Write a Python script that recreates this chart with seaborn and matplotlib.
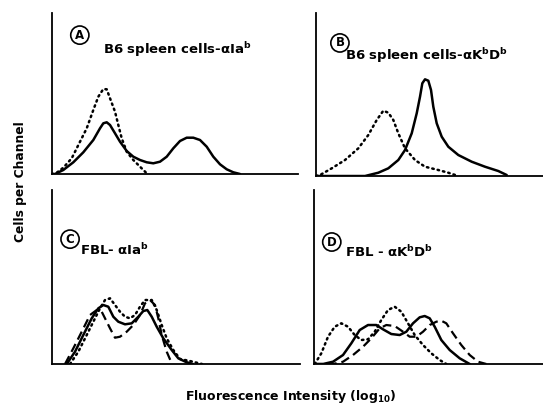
import matplotlib
matplotlib.use("Agg")
import matplotlib.pyplot as plt
import seaborn as sns
import pandas as pd

# channel (x) vs cells per channel (y), arbitrary units

# Panel A: B6 spleen cells - anti Ia(b)
a_solid_x = [0, 3, 11.3, 21.3, 31.3, 41.3, 48, 51.3, 54.7, 58, 63, 68, 74.7, 81.3, 88, 94.7, 101.3,
             108, 114.7, 121.3, 128, 134.7, 141.3, 148, 154.7, 161.3, 168, 174.7, 181.3, 188]
a_solid_y = [0, 0, 4, 11.7, 21.7, 34, 45.7, 50.7, 51.7, 49, 40.7, 32.3, 23, 17.3, 14, 11.7, 10.7,
             12.3, 17.3, 25.7, 33, 36.3, 36.3, 34, 27.3, 17.3, 9.7, 4.7, 1.7, 0]
a_dot_x = [0, 3, 11.3, 19.7, 28, 34.7, 41.3, 46.3, 51.3, 54.7, 58, 63, 66.3, 69.7, 74.7, 81.3, 88, 94.7]
a_dot_y = [0, 0, 6.3, 15.7, 32.3, 45.7, 64, 77.3, 85, 84.7, 75.7, 62.3, 49, 35.7, 22.3, 14, 7.3, 0.7]

# Panel B: B6 spleen cells - anti K(b)D(b)
b_solid_x = [0, 49, 62.3, 72.3, 82.3, 89, 95.7, 100.7, 104, 106.3, 109, 112.3, 115, 117.3, 120.7,
             125.7, 132.3, 142.3, 155.7, 169, 182.3, 190.7]
b_solid_y = [0, 0, 3.3, 7.7, 16, 26, 42.7, 62.7, 79.3, 92.7, 96.7, 95.3, 86, 69.3, 52.7,
             39.3, 29.3, 21, 14.3, 9.3, 5, 1]
b_dot_x = [0, 4, 15.7, 29, 42.3, 52.3, 60.7, 67.3, 72.3, 77.3, 82.3, 89, 99, 109, 122.3, 132.3, 142.3]
b_dot_y = [0, 1, 7.7, 16, 27.7, 41, 56, 65.3, 63.3, 56, 42.7, 27.7, 16, 9.3, 6, 3.3, 0]

# Panel C: FBL - anti Ia(b)
c_solid_x = [14.7, 23, 31.3, 39.7, 46.3, 51.3, 56.3, 61.3, 66.3, 73, 79.7, 86.3, 91.3, 95.3, 99.7,
             104.7, 111.3, 119.7, 126.3, 134, 141]
c_solid_y = [0, 12.3, 29, 45.7, 55.7, 59, 57.3, 47.3, 42.3, 39.7, 40.7, 47.3, 53, 54, 47.3,
             37.3, 25.7, 14, 5.7, 2, 0]
c_dash_x = [13, 21.3, 29.7, 38, 44.7, 49.7, 54.7, 58, 63, 68, 74.7, 81.3, 88, 93, 98, 103, 106.3,
            109.7, 114.7, 119.7]
c_dash_y = [0, 15.7, 32.3, 49, 54, 52.3, 42.3, 35.7, 26.3, 27.3, 32.3, 39, 49, 60.7, 64, 59, 45.7,
            29, 12.3, 0.7]
c_dot_x = [18, 26.3, 34.7, 41.3, 48, 53, 58, 63, 68, 73, 78, 83, 88, 93, 99.7, 104.7, 109.7,
           114.7, 121.3, 128, 138, 150]
c_dot_y = [0, 12.3, 29, 42.3, 55.7, 64, 65.7, 59, 52.3, 47.3, 45.7, 49, 57.3, 64, 64, 54, 39,
           25.7, 14, 5, 3, 0]

# Panel D: FBL - anti K(b)D(b)
d_solid_x = [0, 9, 19, 29, 37.3, 45.7, 54, 62.3, 69, 77.3, 85.7, 92.3, 99, 105.7, 110.7, 115.7,
             120.7, 127.3, 135.7, 145.7, 155.7]
d_solid_y = [0, 0, 2.3, 9, 20.7, 34, 39, 39, 34.7, 30, 29, 32.3, 40.7, 46.7, 48, 45.7,
             37.3, 24, 14, 5.7, 0]
d_dash_x = [0, 19, 29, 39, 49, 57.3, 65.7, 72.3, 80.7, 89, 95.7, 102.3, 109, 115.7, 122.3, 127.3,
            132.3, 139, 147.3, 155.7, 164, 172.3]
d_dash_y = [0, 0, 2.3, 9, 17.3, 25.7, 35.7, 39, 38, 32.3, 27.3, 27.3, 32.3, 39, 42.3, 43.3,
            40.7, 30.7, 19, 9, 2.3, 0]
d_dot_x = [0.7, 7.3, 14, 20.7, 27.3, 34, 40.7, 47.3, 54, 60.7, 67.3, 74, 80.7, 87.3, 94, 100.7,
           109, 117.3, 125.7, 132.3]
d_dot_y = [0, 10.7, 27.3, 37.3, 40.7, 37.3, 29, 24, 24.7, 32.3, 44, 54, 57.3, 52.3, 40.7, 29,
           19, 10.7, 4, 0]

panels = {
    "A": {"rect": [0.0958, 0.5787, 0.453, 0.3898], "lim": (246, 161),
          "label": r"B6 spleen cells-αIa$^{\mathbf{b}}$",
          "circle": (0.147, 0.915), "text": (0.19, 0.879),
          "series": [(a_solid_x, a_solid_y, "-"), (a_dot_x, a_dot_y, ":")]},
    "B": {"rect": [0.582, 0.5738, 0.418, 0.3947], "lim": (227, 163),
          "label": r"B6 spleen cells-αK$^{\mathbf{b}}$D$^{\mathbf{b}}$",
          "circle": (0.626, 0.896), "text": (0.636, 0.866),
          "series": [(b_solid_x, b_solid_y, "-"), (b_dot_x, b_dot_y, ":")]},
    "C": {"rect": [0.0958, 0.1186, 0.4567, 0.4213], "lim": (248, 174),
          "label": r"FBL- αIa$^{\mathbf{b}}$",
          "circle": (0.129, 0.421), "text": (0.147, 0.395),
          "series": [(c_solid_x, c_solid_y, "-"), (c_dash_x, c_dash_y, "--"), (c_dot_x, c_dot_y, ":")]},
    "D": {"rect": [0.5783, 0.1186, 0.4217, 0.4213], "lim": (229, 174),
          "label": r"FBL - αK$^{\mathbf{b}}$D$^{\mathbf{b}}$",
          "circle": (0.611, 0.414), "text": (0.636, 0.39),
          "series": [(d_solid_x, d_solid_y, "-"), (d_dash_x, d_dash_y, "--"), (d_dot_x, d_dot_y, ":")]},
}

sns.set_style("white")
plt.rcParams["font.family"] = ["DejaVu Sans"]

fig = plt.figure(figsize=(5.43, 4.13), dpi=100)

for key, p in panels.items():
    ax = fig.add_axes(p["rect"])
    for xs, ys, ls in p["series"]:
        df = pd.DataFrame({"x": xs, "y": ys})
        if ls == ":":
            sns.lineplot(data=df, x="x", y="y", ax=ax, color="black", lw=1.8,
                         linestyle=(0, (0.6, 1.6)), dash_capstyle="round")
        elif ls == "--":
            sns.lineplot(data=df, x="x", y="y", ax=ax, color="black", lw=1.6,
                         linestyle=(0, (4, 2.2)))
        else:
            sns.lineplot(data=df, x="x", y="y", ax=ax, color="black", lw=1.8)
    ax.set_xlim(0, p["lim"][0])
    ax.set_ylim(0, p["lim"][1])
    ax.set_xticks([])
    ax.set_yticks([])
    ax.set_xlabel("")
    ax.set_ylabel("")
    ax.set_facecolor("none")
    for s in ["top", "right"]:
        ax.spines[s].set_visible(False)
    for s in ["left", "bottom"]:
        ax.spines[s].set_color("black")
        ax.spines[s].set_linewidth(1.3)
    fig.text(*p["circle"], key, ha="center", va="center", fontsize=8.5, fontweight="bold",
             color="black",
             bbox=dict(boxstyle="circle,pad=0.22", fc="white", ec="black", lw=1.2))
    fig.text(*p["text"], p["label"], ha="left", va="center", fontsize=9.5, fontweight="bold",
             color="black")

fig.text(0.037, 0.56, "Cells per Channel", rotation=90, ha="center", va="center",
         fontsize=8.8, fontweight="bold", color="black")
fig.text(0.535, 0.02, r"Fluorescence Intensity (log$_{\mathbf{10}}$)", ha="center", va="bottom",
         fontsize=9, fontweight="bold", color="black")

fig.savefig("out.png", dpi=100)
